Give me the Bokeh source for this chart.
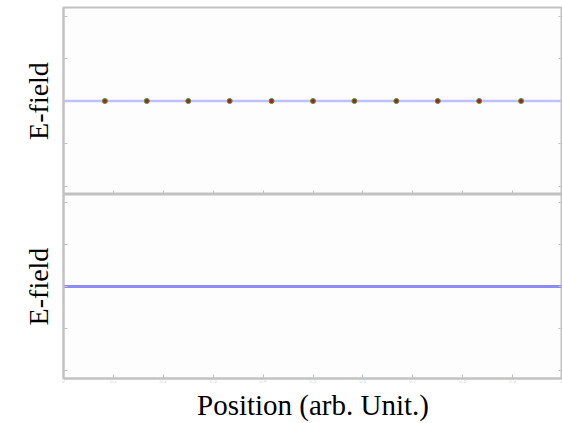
from bokeh.plotting import figure
from bokeh.models import LinearAxis, FixedTicker, Range1d, CustomJSTickFormatter
from bokeh.layouts import column
from bokeh.embed import file_html
from bokeh.resources import INLINE

# data
x_points = [0.083, 0.167, 0.25, 0.333, 0.417, 0.5, 0.583, 0.667, 0.75, 0.833, 0.917]
e_points = [0, 0, 0, 0, 0, 0, 0, 0, 0, 0, 0]
x_line = [0.0, 1.0]
e_line_top = [0.0, 0.0]
e_line_bottom = [0.0, 0.0]
x_ticks = [0.0, 0.1, 0.2, 0.3, 0.4, 0.5, 0.6, 0.7, 0.8, 0.9, 1.0]
y_ticks = [-1.0, -0.5, 0.0, 0.5, 1.0]
y_label = "E-field"
x_label = "Position (arb. Unit.)"

W = 562
FONT = "Liberation Serif"
AX = "#c2c2c2"


def blank():
    return CustomJSTickFormatter(code="return ''")


def style(p, show_xlabels):
    p.grid.visible = False
    p.outline_line_color = AX
    p.outline_line_width = 2
    p.background_fill_color = "#fdfdfd"
    p.border_fill_color = "white"
    p.min_border_left = 63
    p.min_border_right = 0
    p.min_border_bottom = 0
    p.xaxis.ticker = FixedTicker(ticks=x_ticks)
    p.yaxis.ticker = FixedTicker(ticks=y_ticks)
    for ax in p.xaxis + p.yaxis:
        ax.axis_line_color = AX
        ax.axis_line_width = 2
        ax.major_tick_line_color = AX
        ax.major_tick_in = 4
        ax.major_tick_out = 0
        ax.minor_tick_line_color = None
    p.yaxis.formatter = blank()
    p.yaxis.major_label_standoff = 0
    p.yaxis.axis_label = y_label
    p.yaxis.axis_label_text_font = FONT
    p.yaxis.axis_label_text_font_size = "28px"
    p.yaxis.axis_label_text_font_style = "normal"
    p.yaxis.axis_label_text_color = "black"
    p.yaxis.axis_label_standoff = 10
    if show_xlabels:
        p.xaxis.major_label_text_font_size = "5px"
        p.xaxis.major_label_text_color = "#d8d8d8"
        p.xaxis.major_label_standoff = 0
        p.xaxis.axis_label = x_label
        p.xaxis.axis_label_text_font = FONT
        p.xaxis.axis_label_text_font_size = "29px"
        p.xaxis.axis_label_text_font_style = "normal"
        p.xaxis.axis_label_text_color = "black"
        p.xaxis.axis_label_standoff = 3
    else:
        p.xaxis.formatter = blank()
        p.xaxis.major_label_standoff = 0
    r = LinearAxis(ticker=FixedTicker(ticks=y_ticks), formatter=blank(),
                   major_label_standoff=0, axis_line_color=AX, axis_line_width=2,
                   major_tick_line_color=AX, major_tick_in=4, major_tick_out=0,
                   minor_tick_line_color=None)
    p.add_layout(r, "right")


top = figure(width=W, height=194, output_backend="svg", toolbar_location=None,
             x_range=Range1d(0, 1), y_range=Range1d(-1.1, 1.1))
style(top, False)
top.min_border_top = 7
top.line(x_line, e_line_top, line_color="#c0c0ff", line_width=2.5)
top.scatter(x_points, e_points, size=5, fill_color="#b02010", line_color="#40a040", line_width=1)

bot = figure(width=W, height=229, output_backend="svg", toolbar_location=None,
             x_range=Range1d(0, 1), y_range=Range1d(-1.1, 1.1))
style(bot, True)
bot.min_border_top = 0
bot.line(x_line, e_line_bottom, line_color="#8c8cf4", line_width=3)

p = column(top, bot, spacing=0)
open("out.html", "w").write(file_html(p, INLINE))
